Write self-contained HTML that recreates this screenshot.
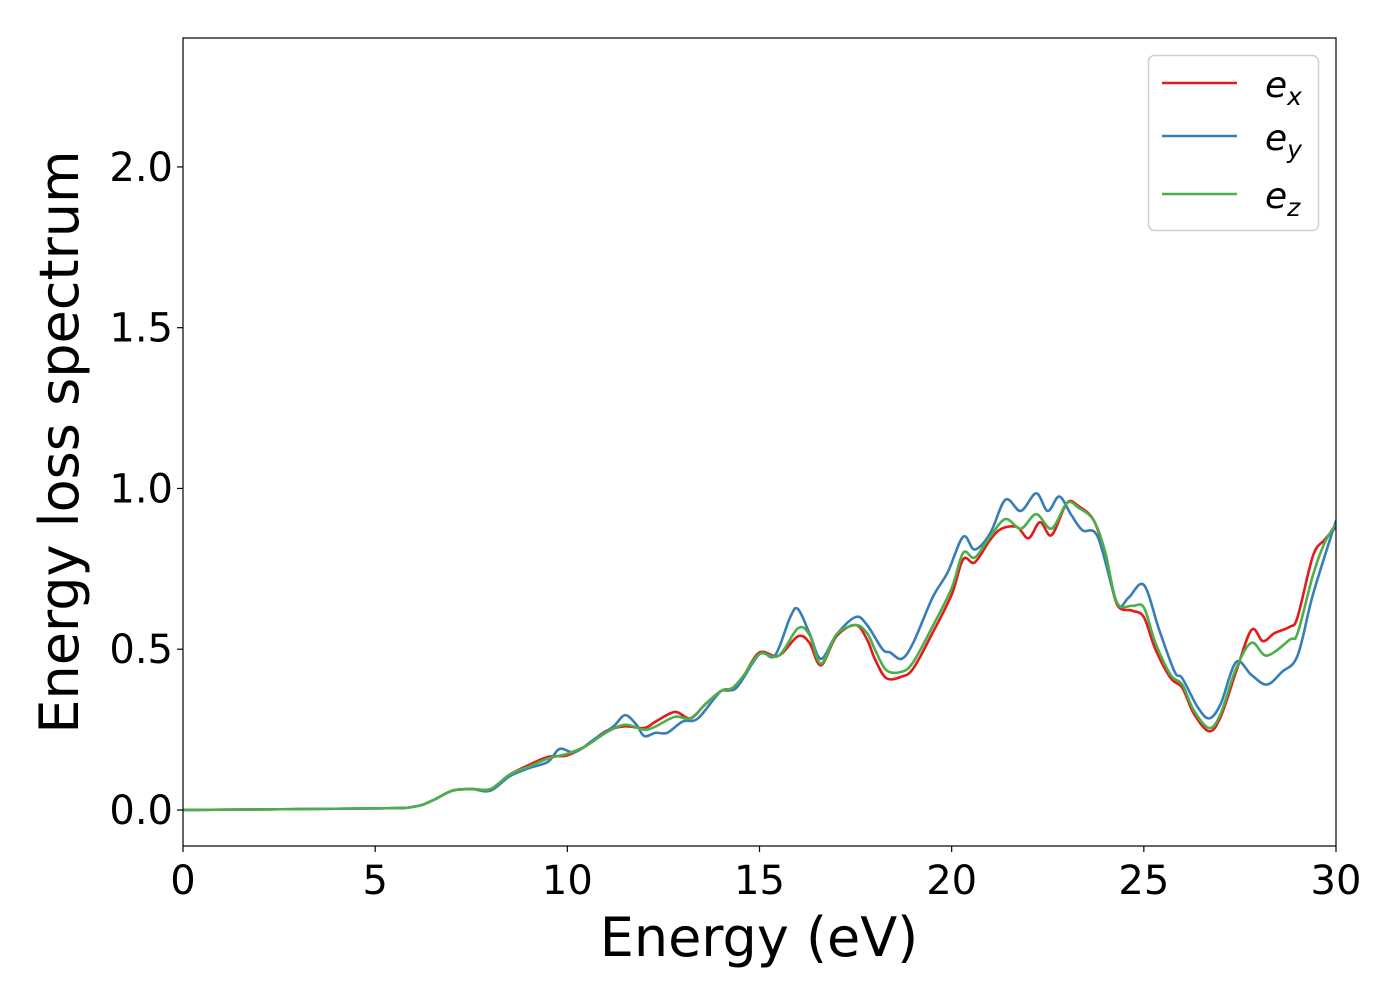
<!DOCTYPE html>
<html><head><meta charset="utf-8"><style>
html,body{margin:0;padding:0;background:#fff;}
svg{display:block;font-family:"DejaVu Sans","Liberation Sans",sans-serif;}
</style></head><body>
<svg id="chart" width="1400" height="1000" viewBox="0 0 1400 1000" xmlns="http://www.w3.org/2000/svg">
<rect x="0" y="0" width="1400" height="1000" fill="#fff"/>
<g id="series"></g>
<rect x="183" y="38" width="1153" height="808" fill="none" stroke="#000" stroke-width="1.2"/>
<g id="xticks"></g>
<g id="yticks"></g>
<text x="759" y="956" font-size="54" text-anchor="middle">Energy (eV)</text>
<text transform="translate(78,442) rotate(-90)" font-size="54" text-anchor="middle">Energy loss spectrum</text>
<g>
<rect x="1148.5" y="55.5" width="170" height="175" rx="6" fill="#fff" stroke="#d0d0d0" stroke-width="1.5"/>
<line x1="1162" y1="83" x2="1237" y2="83" stroke="#e41a1c" stroke-width="2.5"/>
<text x="1265" y="97" font-size="36" font-style="italic">e<tspan font-size="25" dy="8">x</tspan></text>
<line x1="1162" y1="136" x2="1237" y2="136" stroke="#377eb8" stroke-width="2.5"/>
<text x="1265" y="150" font-size="36" font-style="italic">e<tspan font-size="25" dy="8">y</tspan></text>
<line x1="1162" y1="194" x2="1237" y2="194" stroke="#4daf4a" stroke-width="2.5"/>
<text x="1265" y="208" font-size="36" font-style="italic">e<tspan font-size="25" dy="8">z</tspan></text>
</g>
</svg>
<script>
const xTicks = [0,5,10,15,20,25,30];
const yTicks = [0.0,0.5,1.0,1.5,2.0];
const yTickLabels = ["0.0","0.5","1.0","1.5","2.0"];
const exE = [0,5,6,6.5,7,7.5,8,8.5,9,9.5,10,10.5,11,11.5,12,12.3,12.8,13.2,13.6,14,14.3,14.6,15,15.5,16,16.3,16.6,17,17.5,17.8,18,18.3,18.7,19,19.5,20,20.3,20.6,21,21.3,21.7,22,22.3,22.6,23,23.3,23.7,24,24.3,24.7,25,25.3,25.7,26,26.3,26.7,27,27.4,27.8,28.1,28.4,28.8,29,29.4,29.7,30];
const exV = [0,0.005,0.01,0.03,0.06,0.065,0.065,0.11,0.14,0.165,0.17,0.2,0.245,0.26,0.255,0.275,0.305,0.285,0.33,0.37,0.375,0.42,0.49,0.48,0.54,0.52,0.45,0.54,0.575,0.53,0.47,0.41,0.415,0.44,0.55,0.67,0.78,0.77,0.84,0.875,0.88,0.845,0.895,0.855,0.955,0.945,0.9,0.79,0.64,0.62,0.6,0.5,0.41,0.38,0.3,0.245,0.29,0.43,0.56,0.525,0.55,0.57,0.6,0.79,0.84,0.88];
const eyE = [0,5,6,6.5,7,7.5,8,8.5,9,9.5,9.8,10.2,10.7,11.2,11.5,11.8,12,12.3,12.6,13,13.4,14,14.4,15,15.4,15.8,16,16.3,16.6,17,17.5,17.8,18.2,18.4,18.7,19,19.5,19.9,20.3,20.6,21,21.4,21.8,22.2,22.5,22.8,23.1,23.4,23.8,24.3,24.6,25,25.4,25.8,26,26.4,26.7,27,27.4,27.8,28.2,28.6,29,29.4,30];
const eyV = [0,0.005,0.01,0.03,0.06,0.065,0.06,0.105,0.13,0.15,0.19,0.18,0.22,0.26,0.295,0.265,0.23,0.24,0.24,0.275,0.285,0.37,0.38,0.485,0.48,0.6,0.625,0.55,0.47,0.545,0.6,0.575,0.5,0.49,0.47,0.52,0.66,0.74,0.85,0.81,0.86,0.965,0.93,0.985,0.93,0.975,0.92,0.87,0.85,0.645,0.66,0.7,0.56,0.43,0.41,0.32,0.285,0.33,0.46,0.42,0.39,0.43,0.48,0.67,0.9];
const ezE = [0,5,6,6.5,7,7.5,8,8.5,9,9.5,10,10.5,11,11.5,12,12.3,12.8,13.2,13.6,14,14.3,14.6,15,15.5,16,16.3,16.6,17,17.5,17.8,18,18.3,18.7,19,19.5,20,20.3,20.6,21,21.4,21.8,22.2,22.6,23,23.3,23.7,24,24.3,24.7,25,25.3,25.7,26,26.3,26.7,27,27.4,27.8,28.2,28.8,29,29.4,29.7,30];
const ezV = [0,0.005,0.01,0.03,0.06,0.065,0.065,0.11,0.135,0.16,0.175,0.2,0.24,0.265,0.25,0.26,0.29,0.285,0.33,0.37,0.38,0.42,0.485,0.48,0.565,0.545,0.455,0.545,0.575,0.55,0.5,0.435,0.43,0.46,0.57,0.69,0.8,0.785,0.85,0.905,0.875,0.92,0.875,0.955,0.94,0.9,0.8,0.645,0.635,0.63,0.52,0.42,0.39,0.31,0.255,0.3,0.44,0.52,0.48,0.53,0.55,0.73,0.83,0.89];

const X0=183,X1=1336,YB=846,YT=38,YMIN=-0.112,YMAX=2.401;
const xs = e => X0 + (e-0)/(30-0)*(X1-X0);
const ys = v => YB - (v-YMIN)/(YMAX-YMIN)*(YB-YT);
const NS='http://www.w3.org/2000/svg';

function smoothPath(E,V){
  const p=E.map((e,i)=>[xs(e),ys(V[i])]);
  let d='M'+p[0][0].toFixed(2)+','+p[0][1].toFixed(2);
  for(let i=0;i<p.length-1;i++){
    const p0=p[Math.max(0,i-1)],p1=p[i],p2=p[i+1],p3=p[Math.min(p.length-1,i+2)];
    const c1=[p1[0]+(p2[0]-p0[0])/6,p1[1]+(p2[1]-p0[1])/6];
    const c2=[p2[0]-(p3[0]-p1[0])/6,p2[1]-(p3[1]-p1[1])/6];
    d+='C'+c1[0].toFixed(2)+','+c1[1].toFixed(2)+' '+c2[0].toFixed(2)+','+c2[1].toFixed(2)+' '+p2[0].toFixed(2)+','+p2[1].toFixed(2);
  }
  return d;
}
const sg=document.getElementById('series');
const defs=document.createElementNS(NS,'clipPath');defs.setAttribute('id','clip');
const cr=document.createElementNS(NS,'rect');cr.setAttribute('x',X0);cr.setAttribute('y',YT);cr.setAttribute('width',X1-X0);cr.setAttribute('height',YB-YT);
defs.appendChild(cr);sg.appendChild(defs);
const series=[[exE,exV,'#e41a1c','line-ex'],[eyE,eyV,'#377eb8','line-ey'],[ezE,ezV,'#4daf4a','line-ez']];
series.forEach(s=>{
  const path=document.createElementNS(NS,'path');
  path.setAttribute('d',smoothPath(s[0],s[1]));
  path.setAttribute('fill','none');path.setAttribute('stroke',s[2]);path.setAttribute('stroke-width','2.6');
  path.setAttribute('clip-path','url(#clip)');
  
  
  sg.appendChild(path);
});
const xg=document.getElementById('xticks');
xTicks.forEach(t=>{
  const l=document.createElementNS(NS,'line');
  l.setAttribute('x1',xs(t));l.setAttribute('x2',xs(t));l.setAttribute('y1',YB);l.setAttribute('y2',YB+6);l.setAttribute('stroke','#000');l.setAttribute('stroke-width','1.2');
  
  
  xg.appendChild(l);
  const tx=document.createElementNS(NS,'text');
  tx.setAttribute('x',xs(t));tx.setAttribute('y',YB+48);tx.setAttribute('font-size','40');tx.setAttribute('text-anchor','middle');
  tx.textContent=String(t);
  
  
  xg.appendChild(tx);
});
const yg=document.getElementById('yticks');
yTicks.forEach((t,i)=>{
  const l=document.createElementNS(NS,'line');
  l.setAttribute('x1',X0-6);l.setAttribute('x2',X0);l.setAttribute('y1',ys(t));l.setAttribute('y2',ys(t));l.setAttribute('stroke','#000');l.setAttribute('stroke-width','1.2');
  
  
  yg.appendChild(l);
  const tx=document.createElementNS(NS,'text');
  tx.setAttribute('x',X0-10);tx.setAttribute('y',ys(t)+14);tx.setAttribute('font-size','40');tx.setAttribute('text-anchor','end');
  tx.textContent=yTickLabels[i];
  
  
  yg.appendChild(tx);
});
</script>
</body></html>
